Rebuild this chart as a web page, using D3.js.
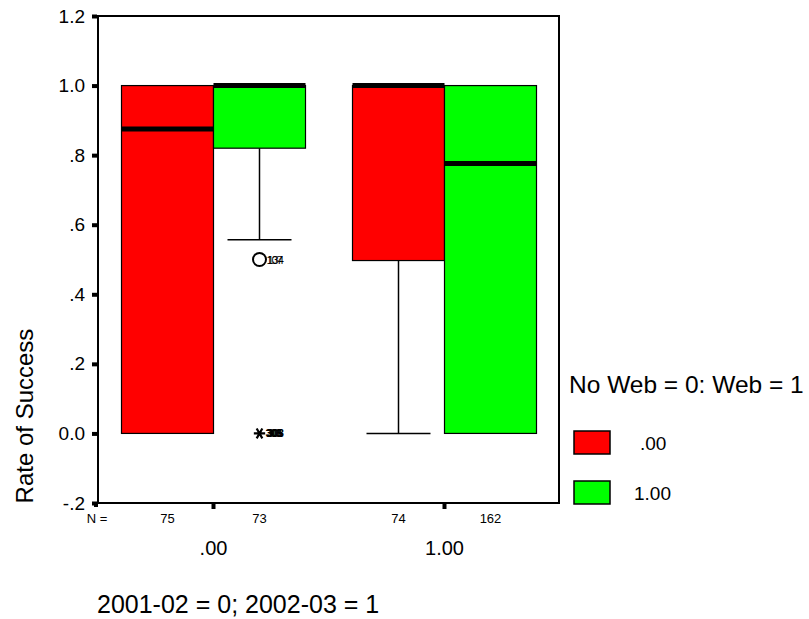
<!DOCTYPE html>
<html>
<head>
<meta charset="utf-8">
<script src="https://cdn.jsdelivr.net/npm/d3@7"></script>
<style>
  body { margin: 0; background: #fff; }
  text { font-family: "Liberation Sans", Arial, sans-serif; fill: #000; }
</style>
</head>
<body>
<div id="chart"></div>
<script>
// groups on the x axis and the two series inside each group
var groups = [".00", "1.00"];
var series = [".00", "1.00"];
var colors = ["#ff0000", "#00ff00"];

// box statistics, [group][series]
var q1 = [[0, 0.82], [0.497, 0]];
var median = [[0.875, 1.0], [1.0, 0.776]];
var q3 = [[1.0, 1.0], [1.0, 1.0]];
var whiskerLow = [[0, 0.557], [0, 0]];
var counts = [[75, 73], [74, 162]];

// outliers (circle) and extremes (asterisk)
var outliers = [{g: 0, s: 1, v: 0.5, labels: ["107", "134"]}];
var extremes = [{g: 0, s: 1, v: 0, labels: ["303", "305", "308"]}];

var yTicks = [-0.2, 0, 0.2, 0.4, 0.6, 0.8, 1.0, 1.2];
var yTickLabels = ["-.2", "0.0", ".2", ".4", ".6", ".8", "1.0", "1.2"];

var W = 809, H = 619;
var mLeft = 98, mTop = 16, mRight = 560, mBottom = 503;
var boxW = 92, capW = 64;

var svg = d3.select("#chart").append("svg")
    .attr("width", W)
    .attr("height", H);

var y = d3.scaleLinear().domain([-0.2, 1.2]).range([mBottom, mTop]);
var x = d3.scaleBand().domain(groups).range([mLeft, mRight]).padding(0);
var xs = d3.scaleBand().domain(series).range([-boxW, boxW]).padding(0);

function cx(g) { return x(groups[g]) + x.bandwidth() / 2; }

// frame
svg.append("rect")
    .attr("x", mLeft).attr("y", mTop)
    .attr("width", mRight - mLeft - 1).attr("height", mBottom - mTop)
    .attr("fill", "none").attr("stroke", "#000").attr("stroke-width", 2);

// y axis
var yAxis = d3.axisLeft(y)
    .tickValues(yTicks)
    .tickFormat(function(d, i) { return yTickLabels[i]; })
    .tickSize(5).tickPadding(7);
var ya = svg.append("g").attr("transform", "translate(" + (mLeft - 1) + ",0)").call(yAxis);
ya.select(".domain").remove();
ya.selectAll(".tick line").attr("stroke", "#000").attr("stroke-width", 4);
ya.selectAll(".tick text").style("font-size", "19px").attr("font-family", "Liberation Sans, Arial, sans-serif");

// x axis ticks (little squares under the frame)
var xAxis = d3.axisBottom(x).tickSize(5).tickFormat("");
var xa = svg.append("g").attr("transform", "translate(0," + (mBottom + 1) + ")").call(xAxis);
xa.select(".domain").remove();
xa.selectAll(".tick line").attr("stroke", "#000").attr("stroke-width", 4);
svg.append("rect").attr("x", 94).attr("y", mBottom).attr("width", 4).attr("height", 4).attr("fill", "#000");

// boxes
groups.forEach(function(gName, g) {
    series.forEach(function(sName, s) {
        var x0 = cx(g) + xs(sName);
        var mid = x0 + xs.bandwidth() / 2;
        // whisker
        if (whiskerLow[g][s] < q1[g][s]) {
            svg.append("line")
                .attr("x1", mid).attr("x2", mid)
                .attr("y1", y(q1[g][s])).attr("y2", y(whiskerLow[g][s]))
                .attr("stroke", "#000").attr("stroke-width", 1.5);
            svg.append("line")
                .attr("x1", mid - capW / 2).attr("x2", mid + capW / 2)
                .attr("y1", y(whiskerLow[g][s])).attr("y2", y(whiskerLow[g][s]))
                .attr("stroke", "#000").attr("stroke-width", 1.5);
        }
        svg.append("rect")
            .attr("x", x0).attr("y", y(q3[g][s]))
            .attr("width", xs.bandwidth())
            .attr("height", y(q1[g][s]) - y(q3[g][s]))
            .attr("fill", colors[s]).attr("stroke", "#000").attr("stroke-width", 1.2);
        svg.append("line")
            .attr("x1", x0).attr("x2", x0 + xs.bandwidth())
            .attr("y1", y(median[g][s])).attr("y2", y(median[g][s]))
            .attr("stroke", "#000").attr("stroke-width", 5);
        svg.append("text")
            .attr("x", mid).attr("y", 523)
            .attr("text-anchor", "middle")
            .style("font-size", "13px")
            .text(counts[g][s]);
    });
});

function ptX(o) { return cx(o.g) + xs(series[o.s]) + xs.bandwidth() / 2; }

outliers.forEach(function(o) {
    svg.append("circle")
        .attr("cx", ptX(o)).attr("cy", y(o.v)).attr("r", 6.5)
        .attr("fill", "none").attr("stroke", "#000").attr("stroke-width", 2);
    o.labels.forEach(function(l, i) {
        svg.append("text")
            .attr("x", ptX(o) + 7 + i).attr("y", y(o.v) + 4)
            .style("font-size", "11px").style("letter-spacing", "-1px")
            .text(l);
    });
});

var star = d3.symbol().type(d3.symbolAsterisk).size(90);
extremes.forEach(function(o) {
    svg.append("path")
        .attr("d", star())
        .attr("transform", "translate(" + ptX(o) + "," + y(o.v) + ") rotate(90)")
        .attr("fill", "none").attr("stroke", "#000").attr("stroke-width", 2.2);
    o.labels.forEach(function(l, i) {
        svg.append("text")
            .attr("x", ptX(o) + 6 + i).attr("y", y(o.v) + 4)
            .style("font-size", "11px").style("font-weight", "bold").style("letter-spacing", "-1px")
            .text(l);
    });
});

// N = label
svg.append("text").attr("x", 97).attr("y", 523).attr("text-anchor", "middle")
    .style("font-size", "13px").text("N =");

// category labels
groups.forEach(function(gName, g) {
    svg.append("text")
        .attr("x", cx(g)).attr("y", 555)
        .attr("text-anchor", "middle")
        .style("font-size", "20px")
        .text(gName);
});

// axis titles
svg.append("text")
    .attr("x", 97).attr("y", 613)
    .style("font-size", "25px")
    .text("2001-02 = 0; 2002-03 = 1");

svg.append("text")
    .attr("transform", "translate(33,416) rotate(-90)")
    .attr("text-anchor", "middle")
    .style("font-size", "24px")
    .text("Rate of Success");

// legend
svg.append("text")
    .attr("x", 569).attr("y", 393)
    .style("font-size", "24.5px")
    .text("No Web = 0: Web = 1");

series.forEach(function(sName, s) {
    var ly = 431 + s * 50;
    svg.append("rect")
        .attr("x", 574).attr("y", ly)
        .attr("width", 36).attr("height", 23)
        .attr("fill", colors[s]).attr("stroke", "#000").attr("stroke-width", 1.5);
    svg.append("text")
        .attr("x", s === 0 ? 640 : 634).attr("y", ly + 19)
        .style("font-size", "19px")
        .text(sName);
});
</script>
</body>
</html>
